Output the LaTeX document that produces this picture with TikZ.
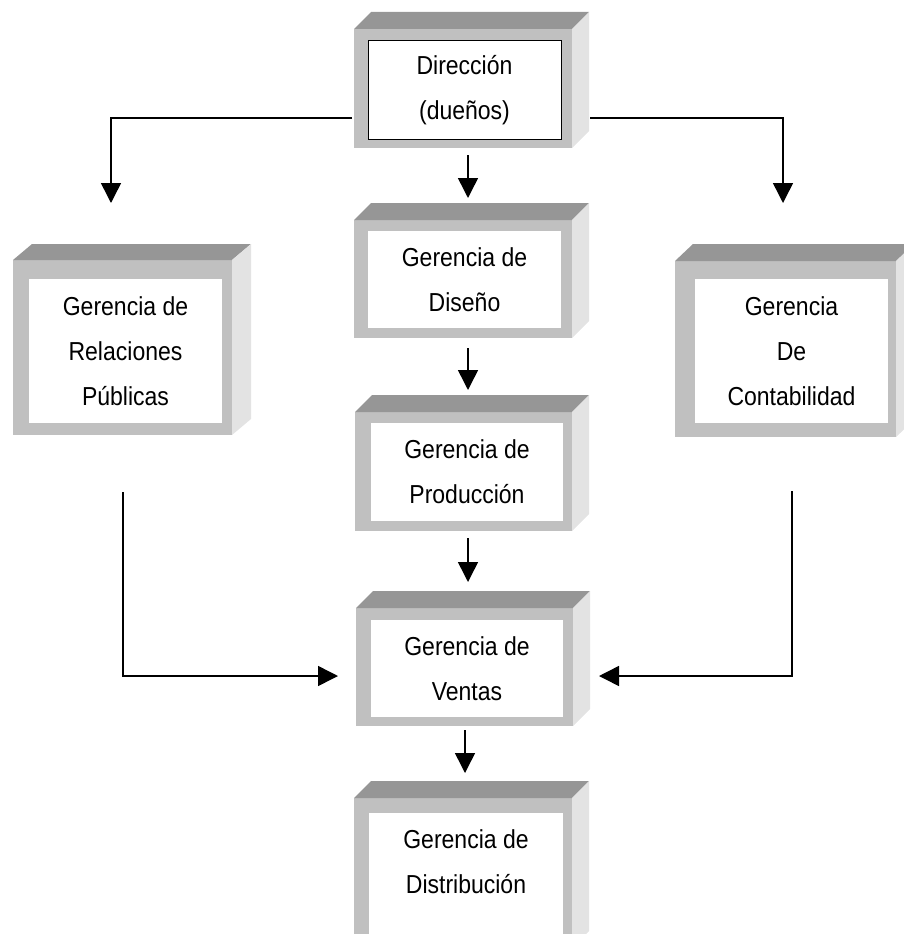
\documentclass[tikz,border=0pt]{standalone}
\usepackage{fontspec}
\setmainfont{Liberation Sans}[FakeStretch=0.885]
\usetikzlibrary{arrows.meta,calc}
\definecolor{frontgray}{HTML}{C0C0C0}
\definecolor{topgray}{HTML}{969696}
\definecolor{sidegray}{HTML}{E3E3E3}
\tikzset{
  frontface/.style={rectangle, fill=frontgray, draw=none, inner sep=0pt, outer sep=0pt},
  topface/.style={fill=topgray},
  sideface/.style={fill=sidegray},
  innerface/.style={fill=white},
  labeltext/.style={align=center, inner sep=0pt, font=\fontsize{26}{45}\selectfont},
  conn/.style={line width=1.5pt, -{Triangle[length=20pt,width=20pt]}},
}
\newcommand\caraslat[3]{% node, dx, dy
  \fill[topface] (#1.north west) -- ++(#2,-#3) -- ([shift={(#2,-#3)}]#1.north east) -- (#1.north east) -- cycle;
  \fill[sideface] (#1.north east) -- ++(#2,-#3) -- ([shift={(#2,-#3)}]#1.south east) -- (#1.south east) -- cycle;
}
\begin{document}
\begin{tikzpicture}[x=1pt,y=-1pt]
\useasboundingbox (0,0) rectangle (904,934);
\clip (0,0) rectangle (904,934);

% Direccion
\node[frontface, minimum width=218pt, minimum height=119pt] (dir) at (463,88.5) {};
\caraslat{dir}{17}{17}
\coordinate (dir-a) at ([shift={(14,12)}]dir.north west);
\coordinate (dir-b) at ([shift={(-11,-9)}]dir.south east);
\path[innerface, draw=black, line width=1pt] (dir-a) rectangle (dir-b);
\node[labeltext] (dir-t) at ($(dir-a)!0.5!(dir-b)$) {Dirección\\(dueños)};

% Diseno
\node[frontface, minimum width=218pt, minimum height=118pt] (dis) at (463,279) {};
\caraslat{dis}{17}{17}
\coordinate (dis-a) at ([shift={(14,11)}]dis.north west);
\coordinate (dis-b) at ([shift={(-11,-10)}]dis.south east);
\path[innerface] (dis-a) rectangle (dis-b);
\node[labeltext] (dis-t) at ($(dis-a)!0.5!(dis-b)$) {Gerencia de\\Diseño};

% Produccion
\node[frontface, minimum width=217pt, minimum height=119pt] (pro) at (463.5,471.5) {};
\caraslat{pro}{17}{17}
\coordinate (pro-a) at ([shift={(16,11)}]pro.north west);
\coordinate (pro-b) at ([shift={(-9,-10)}]pro.south east);
\path[innerface] (pro-a) rectangle (pro-b);
\node[labeltext] (pro-t) at ($(pro-a)!0.5!(pro-b)$) {Gerencia de\\Producción};

% Ventas
\node[frontface, minimum width=217pt, minimum height=118pt] (ven) at (464.5,667) {};
\caraslat{ven}{17}{17}
\coordinate (ven-a) at ([shift={(15,12)}]ven.north west);
\coordinate (ven-b) at ([shift={(-10,-9)}]ven.south east);
\path[innerface] (ven-a) rectangle (ven-b);
\node[labeltext] (ven-t) at ($(ven-a)!0.5!(ven-b)$) {Gerencia de\\Ventas};

% Distribucion
\node[frontface, minimum width=218pt, minimum height=150pt] (dst) at (463,873) {};
\caraslat{dst}{17}{17}
\coordinate (dst-a) at ([shift={(15,15)}]dst.north west);
\coordinate (dst-b) at ([shift={(-9,-10)}]dst.south east);
\path[innerface] (dst-a) rectangle (dst-b);
\node[labeltext] (dst-t) at (466,861.5) {Gerencia de\\Distribución};

% Relaciones Publicas
\node[frontface, minimum width=219pt, minimum height=175pt] (rp) at (122.5,347.5) {};
\caraslat{rp}{19}{16}
\coordinate (rp-a) at ([shift={(16,19)}]rp.north west);
\coordinate (rp-b) at ([shift={(-10,-12)}]rp.south east);
\path[innerface] (rp-a) rectangle (rp-b);
\node[labeltext] (rp-t) at ($(rp-a)!0.5!(rp-b)$) {Gerencia de\\Relaciones\\Públicas};

% Contabilidad
\node[frontface, minimum width=221pt, minimum height=176pt] (con) at (785.5,349) {};
\caraslat{con}{18}{17}
\coordinate (con-a) at ([shift={(20,18)}]con.north west);
\coordinate (con-b) at ([shift={(-8,-14)}]con.south east);
\path[innerface] (con-a) rectangle (con-b);
\node[labeltext] (con-t) at ($(con-a)!0.5!(con-b)$) {Gerencia\\De\\Contabilidad};

% connectors
\draw[conn] ([xshift=5pt,yshift=-7pt]dir.south) -- ([xshift=5pt,yshift=22pt]dis.north);
\draw[conn] ([xshift=5pt,yshift=-10pt]dis.south) -- ([xshift=4.5pt,yshift=22pt]pro.north);
\draw[conn] ([xshift=4.5pt,yshift=-7pt]pro.south) -- ([xshift=3.5pt,yshift=26pt]ven.north);
\draw[conn] ([xshift=0.5pt,yshift=-4pt]ven.south) -- ([xshift=2pt,yshift=25pt]dst.north);
\draw[conn] ([xshift=-2pt,yshift=-29.5pt]dir.west) -| ([xshift=-11.5pt,yshift=57pt]rp.north);
\draw[conn] ([xshift=18pt,yshift=-29.5pt]dir.east) -| ([xshift=-2.5pt,yshift=58pt]con.north);
\draw[conn] ([xshift=0.5pt,yshift=-57pt]rp.south) |- ([xshift=-18pt,yshift=-9pt]ven.west);
\draw[conn] ([xshift=6.5pt,yshift=-54pt]con.south) |- ([xshift=26pt,yshift=-9pt]ven.east);
\end{tikzpicture}
\end{document}
